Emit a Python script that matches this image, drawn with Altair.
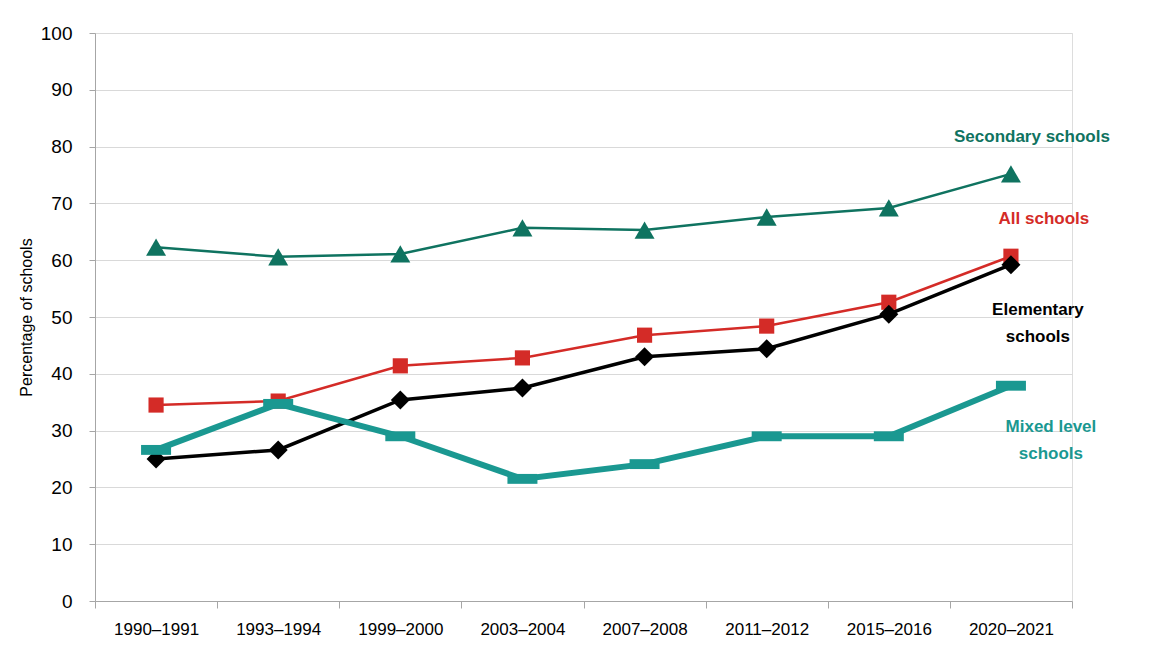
import altair as alt
import pandas as pd

periods = ["1990–1991", "1993–1994", "1999–2000", "2003–2004",
           "2007–2008", "2011–2012", "2015–2016", "2020–2021"]
secondary = [62.3, 60.6, 61.1, 65.7, 65.3, 67.6, 69.2, 75.2]
all_schools = [34.5, 35.2, 41.4, 42.8, 46.8, 48.4, 52.6, 60.7]
elementary = [25.0, 26.6, 35.4, 37.5, 43.0, 44.4, 50.5, 59.2]
mixed = [26.6, 34.7, 29.0, 21.5, 24.1, 29.0, 29.0, 37.9]

series_names = ["Secondary schools", "All schools", "Elementary schools", "Mixed level schools"]
series_values = [secondary, all_schools, elementary, mixed]
series_colors = ["#0F7360", "#D42B27", "#000000", "#1A9891"]
series_widths = [2.5, 2.5, 3.5, 6]
series_shapes = ["triangle-up", "square", "diamond", "M-1,-0.33L1,-0.33L1,0.33L-1,0.33Z"]
series_sizes = [400, 230, 360, 900]

# label annotations (text lines, y-position in data units, x offset px)
label_lines = [["Secondary schools"], ["All schools"], ["Elementary", "schools"], ["Mixed level", "schools"]]
label_y = [81.7, 67.3, 51.3, 30.6]
label_dx = [21, 33, 27, 40]

x_scale = alt.Scale(domain=periods, paddingInner=0, paddingOuter=0)
y_scale = alt.Scale(domain=[0, 100])

x_axis = alt.Axis(title=None, tickBand="extent", labelFont="Liberation Sans", labelFontSize=17,
                  labelColor="#000000", domainColor="#A6A6A6", tickColor="#A6A6A6",
                  tickSize=7, labelPadding=13, grid=False, labelAngle=0)
y_axis = alt.Axis(title="Percentage of schools", values=list(range(0, 101, 10)),
                  labelFont="Liberation Sans", labelFontSize=19, labelColor="#000000",
                  titleFont="Liberation Sans", titleFontSize=16, titleFontWeight="normal",
                  titleColor="#000000", titlePadding=6,
                  domainColor="#A6A6A6", tickColor="#A6A6A6", tickSize=6, labelPadding=17,
                  grid=True, gridColor="#D9D9D9", gridWidth=1)

X = alt.X("period:O", scale=x_scale, axis=x_axis, sort=periods, bandPosition=0.5)
Y = alt.Y("value:Q", scale=y_scale, axis=y_axis)

layers = []
for i, (name, vals) in enumerate(zip(series_names, series_values)):
    df = pd.DataFrame({"period": periods, "value": vals, "series": name})
    base = alt.Chart(df).encode(x=X, y=Y)
    layers.append(base.mark_line(color=series_colors[i], strokeWidth=series_widths[i]))
    layers.append(base.mark_point(shape=series_shapes[i], size=series_sizes[i], filled=True,
                                  color=series_colors[i], opacity=1))

for i in range(4):
    d = pd.DataFrame({"period": [periods[-1]], "value": [label_y[i]], "text": [label_lines[i]]})
    layers.append(
        alt.Chart(d).mark_text(font="Liberation Sans", fontSize=17, fontWeight="bold",
                               color=series_colors[i], dx=label_dx[i], align="center",
                               baseline="middle", lineHeight=27)
        .encode(x=X, y=Y, text="text")
    )

chart = alt.layer(*layers).properties(
    width=977, height=568,
    autosize=alt.AutoSizeParams(type="none"),
    padding={"left": 87, "top": 25, "right": 90, "bottom": 50},
).configure_view(stroke=None).configure(background="white")

chart.save("out.html", embed_options={"renderer": "svg", "actions": False})
